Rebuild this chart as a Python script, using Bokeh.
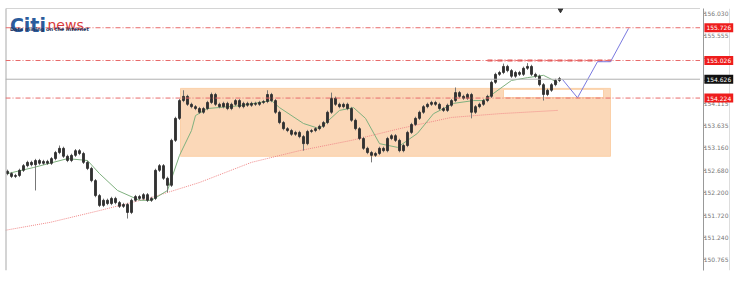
from bokeh.plotting import figure
from bokeh.layouts import row
from bokeh.models import (Range1d, Span, Label, ColumnDataSource, FixedTicker,
                          NumeralTickFormatter)
from bokeh.embed import file_html
from bokeh.resources import INLINE

# ---------------- data ----------------
first_open = 152.66
closes = [152.61, 152.55, 152.57, 152.68, 152.78, 152.85, 152.80, 152.89, 152.83, 152.87,
          152.83, 152.93, 153.06, 153.15, 152.98, 152.89, 153.00, 153.10, 153.04, 152.85,
          152.72, 152.46, 152.14, 151.93, 152.04, 151.97, 152.08, 151.99, 151.91, 151.95,
          151.78, 152.04, 152.12, 152.08, 152.16, 152.04, 152.08, 152.68, 152.78, 152.51,
          152.36, 153.32, 153.79, 154.17, 154.26, 154.09, 154.04, 154.00, 153.92, 154.00,
          154.13, 154.30, 154.09, 154.04, 154.11, 154.00, 154.09, 154.17, 154.04, 154.11,
          154.07, 154.11, 154.09, 154.13, 154.15, 154.30, 154.17, 153.92, 153.70, 153.57,
          153.53, 153.45, 153.49, 153.40, 153.25, 153.51, 153.53, 153.57, 153.62, 153.70,
          153.92, 154.22, 154.09, 154.04, 154.09, 154.00, 153.75, 153.57, 153.36, 153.15,
          153.06, 153.00, 153.04, 153.15, 153.10, 153.36, 153.42, 153.32, 153.10, 153.21,
          153.49, 153.66, 153.79, 153.92, 154.04, 154.09, 154.13, 154.09, 154.00, 153.96,
          154.07, 154.17, 154.34, 154.26, 154.22, 154.30, 153.92, 154.04, 154.09, 154.17,
          154.26, 154.56, 154.73, 154.77, 154.90, 154.81, 154.69, 154.77, 154.73, 154.86,
          154.90, 154.73, 154.69, 154.51, 154.30, 154.39, 154.51, 154.60, 154.64]
default_wick = 0.035
upper_wicks = {13: 0.06, 44: 0.13, 51: 0.04, 65: 0.09, 81: 0.12, 112: 0.11, 124: 0.06, 130: 0.07}
lower_wicks = {7: 0.55, 30: 0.13, 40: 0.15, 74: 0.15, 91: 0.15, 116: 0.13, 134: 0.13}

fast_ma_idx = [0, 6.5, 15, 20, 23, 27.5, 33, 36, 40, 43, 46, 47, 50, 58, 66, 68, 74, 78, 83,
               86.5, 89.5, 93, 97.5, 102.5, 106.5, 111.5, 116.5, 119, 126, 130, 134, 137.5]
fast_ma_val = [152.61, 152.74, 152.93, 152.89, 152.61, 152.25, 152.04, 152.04, 152.25, 153.00,
               153.53, 153.85, 154.00, 154.06, 154.17, 154.02, 153.68, 153.57, 153.96, 154.02,
               153.79, 153.25, 153.17, 153.47, 153.89, 154.11, 154.17, 154.17, 154.60, 154.66,
               154.71, 154.56]
slow_ma_idx = [-0.5, 10.75, 23, 36, 48, 61, 73, 86, 98, 111, 123, 137.5]
slow_ma_val = [151.40, 151.57, 151.82, 152.10, 152.42, 152.85, 153.10, 153.32, 153.57,
               153.81, 153.89, 153.96]

level_prices = [155.726, 155.026, 154.224]
level_labels = ["155.726", "155.026", "154.224"]
current_price = 154.626
current_label = "154.626"

zone_left, zone_right = 43.25, 150.75
zone_top, zone_bottom = 154.43, 152.98
strip_left, strip_right = 124.0, 149.0
strip_top, strip_bottom = 154.41, 154.235

proj_x = [138.75, 142.5, 147.5, 150.75, 155.25]
proj_y = [154.62, 154.23, 155.00, 155.00, 155.71]
res_seg_x = [120.0, 151.0]

tick_vals = [156.030, 155.555, 155.075, 154.595, 154.115, 153.635, 153.160,
             152.680, 152.200, 151.720, 151.240, 150.765]

# ---------------- build ----------------
n = len(closes)
xs = list(range(n))
opens = [first_open] + closes[:-1]
highs = [max(o, c) + upper_wicks.get(i, default_wick) for i, (o, c) in enumerate(zip(opens, closes))]
lows = [min(o, c) - lower_wicks.get(i, default_wick) for i, (o, c) in enumerate(zip(opens, closes))]
tops = [max(o, c) for o, c in zip(opens, closes)]
bots = [min(o, c) for o, c in zip(opens, closes)]
src = ColumnDataSource(dict(x=xs, high=highs, low=lows, top=tops, bottom=bots))

X0, X1 = -0.5, 173.25
Y0, Y1 = 150.54, 156.137
yr = Range1d(Y0, Y1)

p = figure(width=700, height=291, x_range=Range1d(X0, X1), y_range=yr,
           output_backend="svg", toolbar_location=None,
           min_border_left=5, min_border_top=8, min_border_bottom=21, min_border_right=0)
p.xaxis.visible = False
p.yaxis.visible = False
p.grid.visible = False
p.outline_line_color = None
p.background_fill_color = "white"
p.border_fill_color = "white"

# frame lines
p.add_layout(Span(location=X0, dimension="height", line_color="#aaaaaa", line_width=2))
p.add_layout(Span(location=Y1, dimension="width", line_color="#aaaaaa", line_width=1))

# zone
p.quad(left=[zone_left], right=[zone_right], top=[zone_top], bottom=[zone_bottom],
       fill_color="#fbd8b8", line_color="#fbd0a8", line_width=1)
p.quad(left=[strip_left], right=[strip_right], top=[strip_top], bottom=[strip_bottom],
       fill_color="white", line_color="#fbd0a8", line_width=1)

# levels
for lv in level_prices:
    p.add_layout(Span(location=lv, dimension="width", line_color="#e86a6a",
                      line_dash="5 2 1 2", line_width=1))
p.line(res_seg_x, [level_prices[1], level_prices[1]], line_color="#e45555",
       line_dash="5 2 1 2", line_width=2)
p.add_layout(Span(location=current_price, dimension="width", line_color="#b0b0b0", line_width=1))

# moving averages
p.line(slow_ma_idx, slow_ma_val, line_color="#f08a8a", line_dash="1 1", line_width=1)
p.line(fast_ma_idx, fast_ma_val, line_color="#7fb07f", line_width=1)

# candles
p.segment(x0="x", y0="high", x1="x", y1="low", source=src, line_color="#777777", line_width=1)
p.vbar(x="x", width=0.45, top="top", bottom="bottom", source=src,
       fill_color="#333333", line_color="#333333", line_width=1)

# projection
p.line(proj_x, proj_y, line_color="#7a7ae0", line_width=1)

# small marker at top
p.scatter(x=[138.25], y=[Y1 - 0.03], marker="inverted_triangle", size=5, color="#333333")

# logo
p.add_layout(Label(x=0.6, y=155.79, text="Citi", text_font_size="19px", text_font_style="bold",
                   text_color="#2c5c9c", text_font="DejaVu Sans", text_baseline="alphabetic"))
p.add_layout(Label(x=10.0, y=155.79, text="news", text_font_size="14px",
                   text_color="#d83a3a", text_font="DejaVu Sans", text_baseline="alphabetic"))
p.add_layout(Label(x=0.6, y=155.70, text="Data mining on the Internet", text_font_size="5px",
                   text_font_style="bold", text_color="#24365e", text_font="DejaVu Sans",
                   text_baseline="middle"))

# ---------------- price scale panel ----------------
q = figure(width=34, height=291, x_range=Range1d(0, 34), y_range=yr,
           output_backend="svg", toolbar_location=None, y_axis_location="left",
           min_border_left=0, min_border_top=8, min_border_bottom=21, min_border_right=0)
q.xaxis.visible = False
q.grid.visible = False
q.outline_line_color = None
q.background_fill_color = "white"
q.border_fill_color = "white"
ax = q.yaxis[0]
ax.ticker = FixedTicker(ticks=tick_vals)
ax.formatter = NumeralTickFormatter(format="0.000")
ax.major_label_text_font_size = "6px"
ax.major_label_text_color = "#777777"
ax.major_label_text_font = "DejaVu Sans"
ax.axis_line_color = "#999999"
ax.major_tick_line_color = "#999999"
ax.major_tick_in = 2
ax.major_tick_out = 0
ax.minor_tick_line_color = None
ax.major_label_standoff = -25

q.add_layout(Span(location=28.5, dimension="height", line_color="#dddddd", line_width=1))

for lv, txt in zip(level_prices, level_labels):
    q.add_layout(Label(x=1.0, y=lv, text=txt, text_font_size="6px", text_color="white",
                       text_font="DejaVu Sans", text_baseline="middle", text_align="left",
                       background_fill_color="#ee1c1c", padding=2))
q.add_layout(Label(x=1.0, y=current_price, text=current_label,
                   text_font_size="6px", text_color="white", text_font="DejaVu Sans",
                   text_baseline="middle", text_align="left",
                   background_fill_color="#111111", padding=2))

layout = row(p, q, spacing=0)
open("out.html", "w").write(file_html(layout, INLINE))
